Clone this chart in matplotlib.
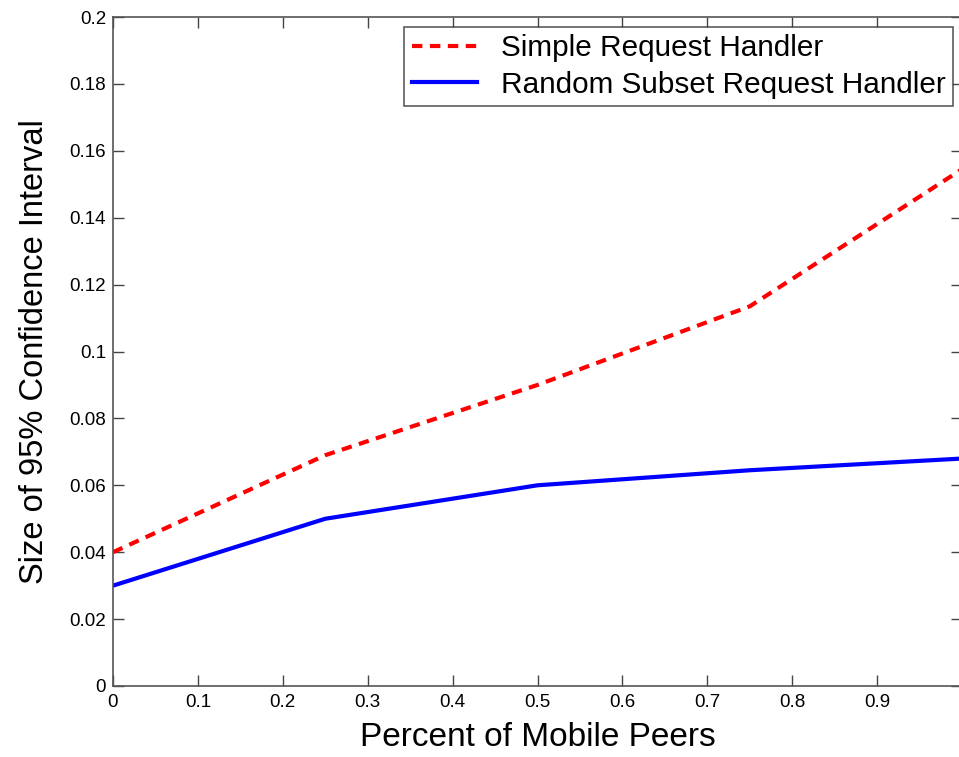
import matplotlib
matplotlib.use("Agg")
import matplotlib.pyplot as plt

x = [0, 0.25, 0.5, 0.75, 1.0]
simple = [0.040, 0.069, 0.090, 0.1135, 0.1545]
random_subset = [0.030, 0.050, 0.060, 0.0645, 0.068]
xticks = [0, 0.1, 0.2, 0.3, 0.4, 0.5, 0.6, 0.7, 0.8, 0.9]
yticks = [0, 0.02, 0.04, 0.06, 0.08, 0.1, 0.12, 0.14, 0.16, 0.18, 0.2]
ytick_labels = ["0", "0.02", "0.04", "0.06", "0.08", "0.1", "0.12", "0.14", "0.16", "0.18", "0.2"]

plt.rcParams['font.family'] = ['Liberation Sans', 'DejaVu Sans']
fig = plt.figure(figsize=(9.59, 7.57), dpi=100)
W, H = 959, 757
x0, x1 = 113, 962
y0, y1 = 686, 17
ax = fig.add_axes([x0 / W, 1 - y0 / H, (x1 - x0) / W, (y0 - y1) / H])

ax.plot(x, simple, color='red', linestyle=(0, (2.5, 1.8)), linewidth=3, label='Simple Request Handler')
ax.plot(x, random_subset, color='blue', linestyle='-', linewidth=3, label='Random Subset Request Handler')

ax.set_xlim(0, 1)
ax.set_ylim(0, 0.2)
ax.set_xticks(xticks)
ax.set_xticklabels([("%g" % v) for v in xticks])
ax.set_yticks(yticks)
ax.set_yticklabels(ytick_labels)
ax.tick_params(direction='in', top=True, right=True, length=8, width=1, labelsize=13.5, color='#444444')
ax.tick_params(axis='x', pad=6)
ax.tick_params(axis='y', pad=5)
for s in ax.spines.values():
    s.set_color('#555555')
    s.set_linewidth(1.2)
ax.set_xlabel('Percent of Mobile Peers', fontsize=24, labelpad=8)
ax.set_ylabel('Size of 95% Confidence Interval', fontsize=23.5, labelpad=14)

leg = ax.legend(loc='upper right', bbox_to_anchor=((953 - x0) / (x1 - x0), (y0 - 27) / (y0 - y1)),
                fontsize=21.4, frameon=True, fancybox=False, handlelength=2.2,
                borderaxespad=0, borderpad=0.25, labelspacing=0.28, handletextpad=0.8)
leg.get_frame().set_edgecolor('#333333')
leg.get_frame().set_linewidth(1.2)

fig.savefig('out.png', dpi=100)
